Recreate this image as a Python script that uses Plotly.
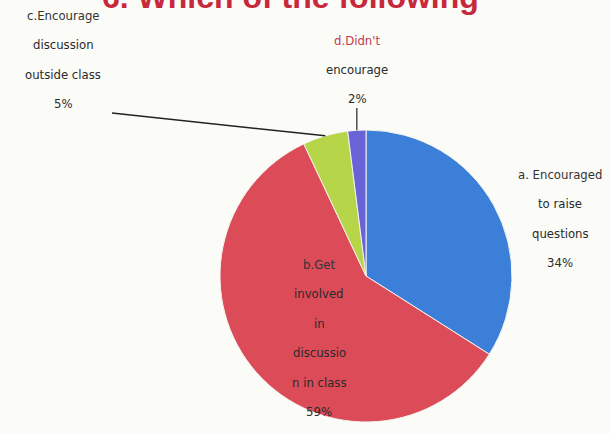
import math
import plotly.graph_objects as go

# ---- data ----
categories = ["a. Encouraged to raise questions",
              "b.Get involved in discussion in class",
              "c.Encourage discussion outside class",
              "d.Didn't encourage"]
values = [34, 59, 5, 2]
colors = ["#3b7fd8", "#dc4b58", "#b7d548", "#6a63d8"]

label_lines = [
    ["a. Encouraged", "to raise", "questions", "34%"],
    ["b.Get", "involved", "in", "discussio", "n in class", "59%"],
    ["c.Encourage", "discussion", "outside class", "5%"],
    ["d.Didn't", "encourage", "2%"],
]
title_text = "6. Which of the following"

# ---- layout geometry (pixels) ----
W, H = 611, 434
cx, cy, R = 366, 276, 146
label_pos = [(560, 174), (319, 264), (63, 15), (357, 40)]   # first-line centres
line_step = [29.5, 29.5, 29.5, 29.5]
first_line_color = ["#333333", "#333333", "#333333", "#c23a4e"]

def px(x):
    return x / W

def py(y):
    return (H - y) / H

fig = go.Figure()
fig.add_trace(go.Pie(
    labels=categories, values=values, sort=False, direction="clockwise",
    rotation=0, textinfo="none", showlegend=False,
    marker=dict(colors=colors, line=dict(color="#f4f4f0", width=1)),
    domain=dict(x=[px(cx - R), px(cx + R)], y=[py(cy + R), py(cy - R)]),
))

font_family = "DejaVu Sans Condensed, Liberation Sans Narrow, Liberation Sans, Arial"
annotations = []
for i, lines in enumerate(label_lines):
    lx, ly = label_pos[i]
    for j, t in enumerate(lines):
        annotations.append(dict(
            x=px(lx), y=py(ly + j * line_step[i]), xref="paper", yref="paper",
            text=t, showarrow=False, xanchor="center", yanchor="middle",
            font=dict(family=font_family, size=13,
                      color=first_line_color[i] if j == 0 else "#2a2a2a"),
        ))

annotations.append(dict(
    x=px(100), y=py(17), xref="paper", yref="paper", text="<b>" + title_text + "</b>",
    showarrow=False, xanchor="left", yanchor="bottom",
    font=dict(family="Liberation Sans, Arial", size=32, color="#c8283c"),
))

# leader lines from labels to slice midpoints
total = sum(values)
cum = 0
mids = []
for v in values:
    mids.append((cum + v / 2) / total * 2 * math.pi)
    cum += v

shapes = []
# c leader
ang = mids[2]
ex, ey = cx + R * math.sin(ang), cy - R * math.cos(ang)
shapes.append(dict(type="line", xref="paper", yref="paper",
                   x0=px(112), y0=py(113), x1=px(ex), y1=py(ey),
                   line=dict(color="#222222", width=1.5)))
# d leader
ang = mids[3]
ex, ey = cx + R * math.sin(ang), cy - R * math.cos(ang)
shapes.append(dict(type="line", xref="paper", yref="paper",
                   x0=px(ex), y0=py(108), x1=px(ex), y1=py(ey),
                   line=dict(color="#222222", width=1.2)))

fig.update_layout(
    width=W, height=H, margin=dict(l=0, r=0, t=0, b=0),
    paper_bgcolor="#fbfbf8", plot_bgcolor="#fbfbf8",
    annotations=annotations, shapes=shapes,
)
fig.write_html("out.html", config={"displayModeBar": False},
               post_script="document.body.style.margin='0';document.body.style.overflow='hidden';")
